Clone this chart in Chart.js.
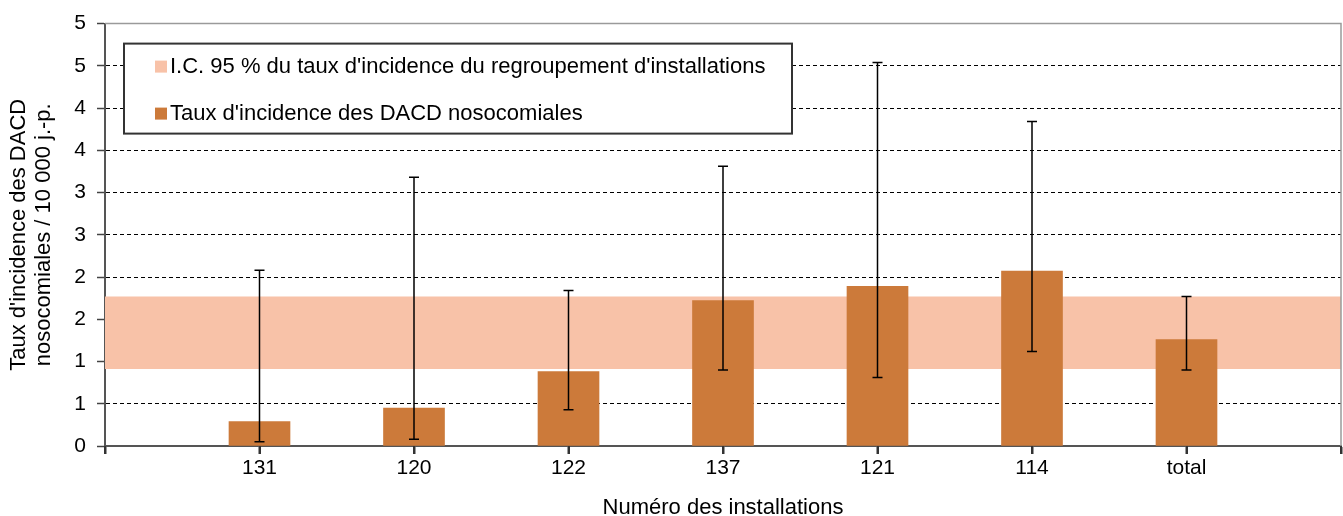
<!DOCTYPE html>
<html lang="fr">
<head>
<meta charset="utf-8">
<title>Taux d'incidence des DACD nosocomiales</title>
<script src="https://cdn.jsdelivr.net/npm/chart.js@4/dist/chart.umd.min.js"></script>
<style>
  html, body { margin: 0; padding: 0; background: #fff; }
  #wrap { width: 1343px; height: 516px; }
</style>
</head>
<body>
<div id="wrap"><canvas id="incidenceChart" width="1343" height="516"></canvas></div>
<script>
// categories (empty slots at both ends so the band spans the full plot)
const installations = ['', '131', '120', '122', '137', '121', '114', 'total', ''];

// taux d'incidence / 10 000 j.-p.
const tauxIncidence = [null, 0.29, 0.45, 0.88, 1.72, 1.89, 2.07, 1.26, null];
const erreurBas     = [null, 0.05, 0.08, 0.43, 0.90, 0.81, 1.12, 0.90, null];
const erreurHaut    = [null, 2.08, 3.18, 1.84, 3.31, 4.54, 3.84, 1.77, null];

// I.C. 95 % du regroupement
const icBas  = [0.91, 0.91, 0.91, 0.91, 0.91, 0.91, 0.91, 0.91, 0.91];
const icHaut = [1.77, 1.77, 1.77, 1.77, 1.77, 1.77, 1.77, 1.77, 1.77];

const yTickLabels = ['0', '1', '1', '2', '2', '3', '3', '4', '4', '5', '5'];

const legendLabels = [
    "I.C. 95 % du taux d'incidence du regroupement d'installations",
    "Taux d'incidence des DACD nosocomiales"
];

const BAR_COLOR = '#CC7A3A';
const BAND_COLOR = '#F8C2A8';
const FONT = "'Liberation Sans', Arial, sans-serif";

// error bars drawn through the scales
const errorBarsPlugin = {
    id: 'errorBars',
    afterDatasetsDraw(chart) {
        const ctx = chart.ctx;
        const xs = chart.scales.x;
        const ys = chart.scales.y;
        ctx.save();
        ctx.strokeStyle = '#000';
        ctx.lineWidth = 1.5;
        for (let i = 0; i < installations.length; i++) {
            if (erreurHaut[i] == null) continue;
            const x = xs.getPixelForValue(i);
            const yHi = ys.getPixelForValue(erreurHaut[i]);
            const yLo = ys.getPixelForValue(erreurBas[i]);
            ctx.beginPath();
            ctx.moveTo(x, yHi);
            ctx.lineTo(x, yLo);
            ctx.moveTo(x - 5, yHi);
            ctx.lineTo(x + 5, yHi);
            ctx.moveTo(x - 5, yLo);
            ctx.lineTo(x + 5, yLo);
            ctx.stroke();
        }
        ctx.restore();
    }
};

// plot frame (top/right), category tick marks and boxed legend
const framePlugin = {
    id: 'frameLegend',
    afterDraw(chart) {
        const ctx = chart.ctx;
        const a = chart.chartArea;
        const xs = chart.scales.x;
        ctx.save();
        ctx.strokeStyle = '#9a9a9a';
        ctx.lineWidth = 1.5;
        ctx.beginPath();
        ctx.moveTo(a.left, a.top);
        ctx.lineTo(a.right, a.top);
        ctx.lineTo(a.right, a.bottom);
        ctx.stroke();

        // tick marks under each category
        ctx.fillStyle = '#333';
        for (let i = 0; i < installations.length; i++) {
            const x = Math.round(xs.getPixelForValue(i));
            ctx.fillRect(x - 1, a.bottom, 2, 8);
        }

        // legend box
        const bx = a.left + 19, by = a.top + 20, bw = 668, bh = 90;
        ctx.fillStyle = '#fff';
        ctx.fillRect(bx, by, bw, bh);
        ctx.strokeStyle = '#333';
        ctx.lineWidth = 2;
        ctx.strokeRect(bx, by, bw, bh);

        const colors = [BAND_COLOR, BAR_COLOR];
        const rows = [by + 23, by + 70];
        ctx.font = '22px ' + FONT;
        ctx.textBaseline = 'middle';
        ctx.textAlign = 'left';
        legendLabels.forEach((txt, i) => {
            ctx.fillStyle = colors[i];
            ctx.fillRect(bx + 31, rows[i] - 6, 12, 12);
            ctx.fillStyle = '#000';
            ctx.fillText(txt, bx + 46, rows[i]);
        });
        ctx.restore();
    }
};

const ctx = document.getElementById('incidenceChart').getContext('2d');
const incidenceChart = new Chart(ctx, {
    type: 'bar',
    data: {
        labels: installations,
        datasets: [
            {
                type: 'bar',
                label: legendLabels[1],
                data: tauxIncidence,
                backgroundColor: BAR_COLOR,
                barThickness: 61,
                order: 1
            },
            {
                type: 'line',
                label: 'IC bas',
                data: icBas,
                borderWidth: 0,
                borderColor: 'transparent',
                pointRadius: 0,
                fill: false,
                order: 2
            },
            {
                type: 'line',
                label: legendLabels[0],
                data: icHaut,
                borderWidth: 0,
                borderColor: 'transparent',
                backgroundColor: BAND_COLOR,
                pointRadius: 0,
                fill: '-1',
                order: 2
            }
        ]
    },
    options: {
        responsive: false,
        animation: false,
        devicePixelRatio: 1,
        layout: { padding: { top: 20, right: 2, bottom: 0, left: 0 } },
        plugins: {
            legend: { display: false },
            tooltip: { enabled: false }
        },
        scales: {
            x: {
                offset: false,
                afterFit: (s) => { s.height = 70; },
                grid: {
                    offset: false,
                    drawOnChartArea: false,
                    drawTicks: true,
                    tickLength: 8,
                    tickColor: '#333',
                    tickWidth: 2
                },
                border: { display: true, color: '#555', width: 2 },
                ticks: {
                    autoSkip: false,
                    maxRotation: 0,
                    padding: 2,
                    color: '#000',
                    font: { family: FONT, size: 21 }
                },
                title: {
                    display: true,
                    text: 'Numéro des installations',
                    color: '#000',
                    padding: { top: 0, bottom: -3 },
                    font: { family: FONT, size: 22, lineHeight: 1 }
                }
            },
            y: {
                min: 0,
                max: 5,
                afterFit: (s) => { s.width = 105; },
                grid: {
                    color: (c) => (c.tick && (c.tick.value === 0 || c.tick.value === 5)) ? 'transparent' : '#000',
                    lineWidth: 1,
                    tickLength: 8,
                    tickColor: '#444',
                    tickWidth: 1.5,
                    tickBorderDash: []
                },
                border: { display: true, color: '#555', width: 2, dash: [4, 3] },
                ticks: {
                    stepSize: 0.5,
                    padding: 11,
                    color: '#000',
                    font: { family: FONT, size: 21 },
                    callback: (v, i) => yTickLabels[i]
                },
                title: {
                    display: true,
                    text: ["Taux d'incidence des DACD", 'nosocomiales / 10 000 j.-p.'],
                    color: '#000',
                    padding: { top: 6, bottom: 0 },
                    font: { family: FONT, size: 22, lineHeight: 1.15 }
                }
            }
        }
    },
    plugins: [errorBarsPlugin, framePlugin]
});
</script>
</body>
</html>
